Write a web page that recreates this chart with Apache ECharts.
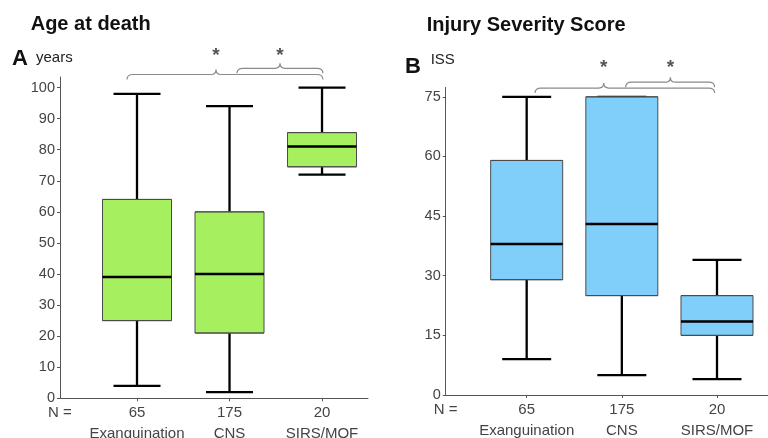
<!DOCTYPE html>
<html><head><meta charset="utf-8">
<script src="https://cdn.jsdelivr.net/npm/echarts@6/dist/echarts.min.js"></script>
<style>html,body{margin:0;padding:0;background:#fff}#c{width:768px;height:438px}</style>
</head><body><div id="c"></div>
<script>
const categories = ['Exanguination', 'CNS', 'SIRS/MOF'];
const groupN = ['65', '175', '20'];
// [min, Q1, median, Q3, max]
const ageStats = [[4, 25, 39, 64, 98], [2, 21, 40, 60, 94], [72, 74.5, 81, 85.5, 100]];
const issStats = [[9, 29, 38, 59, 75], [5, 25, 43, 75, 75], [4, 15, 18.5, 25, 34]];
const ageTicks = [0, 10, 20, 30, 40, 50, 60, 70, 80, 90, 100];
const issTicks = [0, 15, 30, 45, 60, 75];
// significance braces: [fromX, toX, cuspX, lineY, starY]
const ageBraces = [[0.892, 3.01, 1.854, 104.2, 112], [2.081, 3.01, 2.546, 106.2, 112]];
const issBraces = [[1.087, 2.975, 1.81, 77.2, 83.5], [2.04, 2.975, 2.51, 78.7, 83.5]];

const FONT = 'Liberation Sans, Arial, sans-serif';
const AXC = '#555';
const LBC = '#444';

// whiskers run from the median outward; the box drawn above hides the inner part
function whiskerData(stats) { return stats.map((s, i) => [i + 1, s[0], s[2], s[2], s[2], s[4]]); }
function boxData(stats) { return stats.map((s, i) => [i + 1, s[1], s[1], s[2], s[3], s[3]]); }
function medianData(stats) { return stats.map((s, i) => [i + 1, s[2], s[2], s[2], s[2], s[2]]); }

function xLabel(v) {
  if (v < 0.5) return 'N =';
  const i = Math.round(v) - 1;
  return groupN[i] + '\n' + categories[i];
}

function mainX(grid, min, max) {
  return {
    type: 'value', gridIndex: grid, min: min, max: max,
    axisLine: { show: true, onZero: false, lineStyle: { color: AXC, width: 1 } },
    axisTick: { show: true, customValues: [1, 2, 3], length: 3, lineStyle: { color: AXC } },
    axisLabel: { customValues: [min, 1, 2, 3], formatter: xLabel, fontSize: 15, color: LBC,
      lineHeight: 21, margin: 4, fontFamily: FONT, showMinLabel: true, showMaxLabel: true },
    splitLine: { show: false }
  };
}
function hiddenX(grid, min, max) {
  return { type: 'value', gridIndex: grid, min: min, max: max, show: false, splitLine: { show: false } };
}
function yAx(grid, max, ticks) {
  return {
    type: 'value', gridIndex: grid, min: 0, max: max,
    axisLine: { show: true, onZero: false, lineStyle: { color: AXC, width: 1 } },
    axisTick: { show: true, customValues: ticks, length: 3, lineStyle: { color: AXC } },
    axisLabel: { customValues: ticks, fontSize: 14.5, color: LBC, margin: 5, fontFamily: FONT,
      showMinLabel: true, showMaxLabel: true },
    splitLine: { show: false }
  };
}

function braceRender(params, api) {
  const p1 = api.coord([api.value(0), api.value(3)]);
  const p2 = api.coord([api.value(1), api.value(3)]);
  const pc = api.coord([api.value(2), api.value(3)]);
  const ps = api.coord([api.value(2), api.value(4)]);
  const y = p1[1], x1 = p1[0], x2 = p2[0], xc = pc[0];
  const d = 'M' + x1 + ' ' + (y + 5) + ' Q' + x1 + ' ' + y + ' ' + (x1 + 6) + ' ' + y +
    ' L' + (xc - 5) + ' ' + y + ' Q' + xc + ' ' + y + ' ' + xc + ' ' + (y - 5) +
    ' Q' + xc + ' ' + y + ' ' + (xc + 5) + ' ' + y +
    ' L' + (x2 - 6) + ' ' + y + ' Q' + x2 + ' ' + y + ' ' + x2 + ' ' + (y + 5);
  return {
    type: 'group', children: [
      { type: 'path', shape: { pathData: d }, style: { fill: null, stroke: '#8a8a8a', lineWidth: 1.2 } },
      { type: 'text', x: ps[0], y: ps[1] + 5, style: { text: '*', fill: '#555', font: 'bold 19px ' + FONT, align: 'center', verticalAlign: 'middle' } }
    ]
  };
}

function boxSeries(xi, yi, stats, fill, wBox, wCap) {
  return [
    { type: 'boxplot', xAxisIndex: xi, yAxisIndex: yi, boxWidth: [wCap, wCap], data: whiskerData(stats),
      itemStyle: { color: 'rgba(0,0,0,0)', borderColor: '#000', borderWidth: 2.3 }, z: 2, silent: true },
    { type: 'boxplot', xAxisIndex: xi + 1, yAxisIndex: yi, boxWidth: [wBox, wBox], data: boxData(stats),
      itemStyle: { color: fill, borderColor: '#4a4a4a', borderWidth: 1 }, z: 3, silent: true },
    { type: 'boxplot', xAxisIndex: xi + 2, yAxisIndex: yi, boxWidth: [wBox, wBox], data: medianData(stats),
      itemStyle: { color: 'rgba(0,0,0,0)', borderColor: '#000', borderWidth: 2.5 }, z: 4, silent: true }
  ];
}

const AX = [0.1676, 3.497], BX = [0.149, 3.536];

const chart = echarts.init(document.getElementById('c'), null, { renderer: 'canvas' });
chart.setOption({
  animation: false,
  backgroundColor: '#fff',
  textStyle: { fontFamily: FONT },
  grid: [
    { left: 60, top: 77, width: 308, height: 321.3, containLabel: false, outerBoundsMode: 'none' },
    { left: 445.7, top: 87.3, width: 322.3, height: 307.7, containLabel: false, outerBoundsMode: 'none' }
  ],
  xAxis: [
    mainX(0, AX[0], AX[1]), hiddenX(0, AX[0], AX[1]), hiddenX(0, AX[0], AX[1]),
    mainX(1, BX[0], BX[1]), hiddenX(1, BX[0], BX[1]), hiddenX(1, BX[0], BX[1])
  ],
  yAxis: [yAx(0, 103.4, ageTicks), yAx(1, 77.4, issTicks)],
  graphic: [
    { type: 'text', left: 30.7, top: 14, style: { text: 'Age at death', font: 'bold 20px ' + FONT, fill: '#111' } },
    { type: 'text', left: 12, top: 48, style: { text: 'A', font: 'bold 22px ' + FONT, fill: '#111' } },
    { type: 'text', left: 36, top: 50, style: { text: 'years', font: '15px ' + FONT, fill: '#222' } },
    { type: 'text', left: 426.7, top: 15, style: { text: 'Injury Severity Score', font: 'bold 20px ' + FONT, fill: '#111' } },
    { type: 'text', left: 405, top: 56, style: { text: 'B', font: 'bold 22px ' + FONT, fill: '#111' } },
    { type: 'text', left: 430.7, top: 52, style: { text: 'ISS', font: '15px ' + FONT, fill: '#222' } }
  ],
  series: [].concat(
    boxSeries(0, 0, ageStats, '#a6f060', 69, 47),
    boxSeries(3, 1, issStats, '#80cffa', 72, 49),
    [
      { type: 'custom', xAxisIndex: 0, yAxisIndex: 0, renderItem: braceRender, data: ageBraces, silent: true, clip: false, z: 5 },
      { type: 'custom', xAxisIndex: 3, yAxisIndex: 1, renderItem: braceRender, data: issBraces, silent: true, clip: false, z: 5 }
    ]
  )
});
</script>
</body></html>
